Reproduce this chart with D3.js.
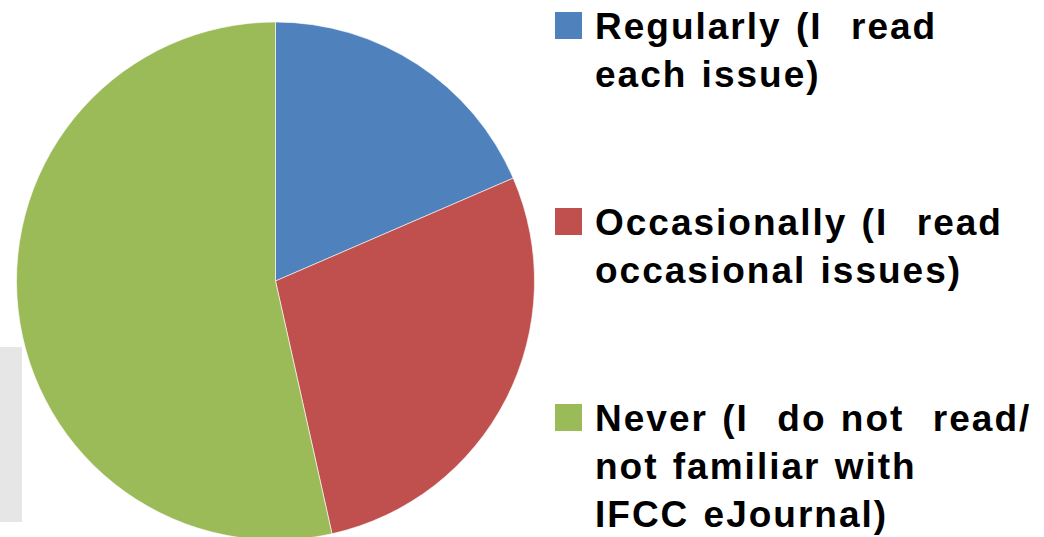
<!DOCTYPE html>
<html>
<head>
<meta charset="utf-8">
<script src="https://cdn.jsdelivr.net/npm/d3@7"></script>
<style>
    body { margin: 0; background: #fff; }
    svg { display: block; }
    .legend text { font-family: "Liberation Sans", Arial, sans-serif; font-weight: bold; font-size: 37px; fill: #000; }
</style>
</head>
<body>
<div id="chart"></div>
<script>
// survey answers, share of respondents (%)
const categories = ["Regularly", "Occasionally", "Never"];
const values = [18.5, 28.0, 53.5];
const labelLines = [
    ["Regularly (I  read", "each issue)"],
    ["Occasionally (I  read", "occasional issues)"],
    ["Never (I  do not  read/", "not familiar with", "IFCC eJournal)"]
];
const colors = ["#4f81bd", "#c0504d", "#9bbb59"];

const width = 1044;
const height = 537;

const svg = d3.select("#chart")
    .append("svg")
    .attr("width", width)
    .attr("height", height);

// grey panel peeking in at the left edge
svg.append("rect")
    .attr("x", 0)
    .attr("y", 347)
    .attr("width", 22)
    .attr("height", 175)
    .attr("fill", "#e6e6e6");

const radius = 259;
const g = svg.append("g")
    .attr("transform", `translate(275.5, 281)`);

const pie = d3.pie().sort(null).value(d => d);
const arc = d3.arc().innerRadius(0).outerRadius(radius);

g.selectAll("path")
    .data(pie(values))
    .enter()
    .append("path")
    .attr("d", arc)
    .attr("fill", (d, i) => colors[i])
    .attr("stroke", "#fff")
    .attr("stroke-width", 0.6);

// legend
const legendY = d3.scalePoint()
    .domain(categories)
    .range([12, 404]);

const legend = svg.append("g")
    .attr("class", "legend")
    .selectAll("g")
    .data(categories)
    .enter()
    .append("g")
    .attr("transform", d => `translate(555, ${legendY(d)})`);

legend.append("rect")
    .attr("width", 27)
    .attr("height", 27)
    .attr("fill", (d, i) => colors[i]);

legend.append("text")
    .attr("x", 40)
    .attr("y", 27)
    .style("letter-spacing", "2px")
    .style("word-spacing", "2px")
    .style("white-space", "pre")
    .selectAll("tspan")
    .data((d, i) => labelLines[i])
    .enter()
    .append("tspan")
    .attr("x", 40)
    .attr("dy", (d, i) => i === 0 ? 0 : 48)
    .text(d => d);
</script>
</body>
</html>
